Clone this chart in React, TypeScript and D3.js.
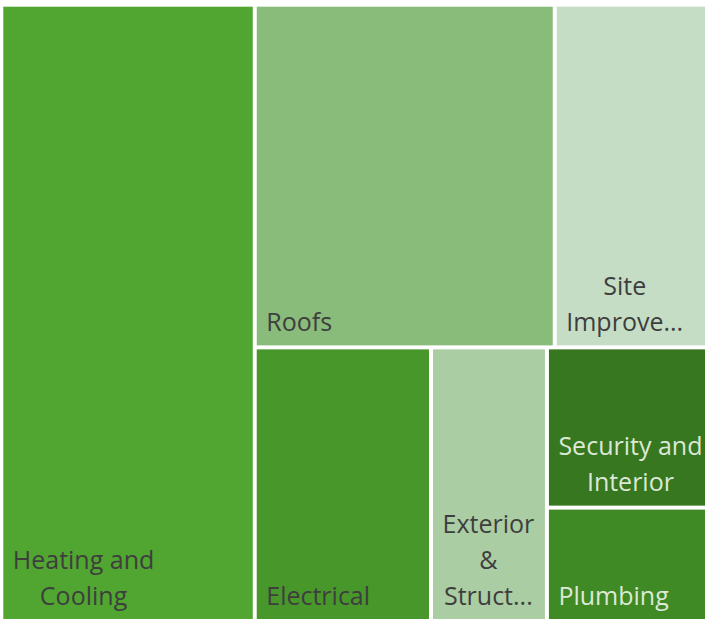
import React, { useMemo } from "react";
import * as d3 from "d3";

// Categories (display lines as shown in the tiles)
const labelLines: string[][] = [
  ["Heating and", "Cooling"],
  ["Roofs"],
  ["Site", "Improve..."],
  ["Electrical"],
  ["Exterior", "&", "Struct..."],
  ["Security and", "Interior"],
  ["Plumbing"],
];
const values: number[] = [35.9, 23.6, 12.0, 11.1, 7.3, 5.9, 4.2];
const colors: string[] = ["#50a630", "#89bb7a", "#c5ddc5", "#48972a", "#abcda3", "#377720", "#3f8a25"];
const textColors: string[] = ["#3e3e3e", "#3e3e3e", "#3e3e3e", "#3e3e3e", "#3e3e3e", "#dde8d7", "#dde8d7"];

const W = 705;
const H = 619;
const FONT = "25px 'Open Sans'";

type Node = { name?: string; idx?: number; value?: number; children?: Node[] };

function leaf(i: number): Node {
  return { name: labelLines[i].join(" "), idx: i, value: values[i] };
}

export default function App() {
  const leaves = useMemo(() => {
    const data: Node = {
      children: [
        leaf(0),
        {
          children: [
            { children: [leaf(1), leaf(2)] },
            { children: [leaf(3), leaf(4), { children: [leaf(5), leaf(6)] }] },
          ],
        },
      ],
    };
    const root = d3.hierarchy<Node>(data).sum((d) => d.value ?? 0);
    d3.treemap<Node>().tile(d3.treemapSliceDice).size([702, 613]).paddingInner(4)(root);
    return root.leaves() as d3.HierarchyRectangularNode<Node>[];
  }, []);

  const measure = useMemo(() => {
    const c = document.createElement("canvas").getContext("2d")!;
    c.font = FONT;
    return (s: string) => c.measureText(s).width;
  }, []);

  return (
    <svg width={W} height={H} style={{ position: "fixed", left: 0, top: 0, background: "#fff" }}>
      <g transform="translate(3.3,6.7)">
        {leaves.map((n) => {
          const i = n.data.idx!;
          const lines = labelLines[i];
          const bw = Math.max(...lines.map(measure));
          const cx = n.x0 + 9.5 + bw / 2;
          return (
            <g key={i}>
              <rect x={n.x0} y={n.y0} width={n.x1 - n.x0} height={n.y1 - n.y0} fill={colors[i]} />
              {lines.map((l, k) => (
                <text
                  key={k}
                  x={cx}
                  y={n.y1 - 14.5 - (lines.length - 1 - k) * 36}
                  textAnchor="middle"
                  fill={textColors[i]}
                  style={{ font: FONT }}
                >
                  {l}
                </text>
              ))}
            </g>
          );
        })}
      </g>
    </svg>
  );
}
